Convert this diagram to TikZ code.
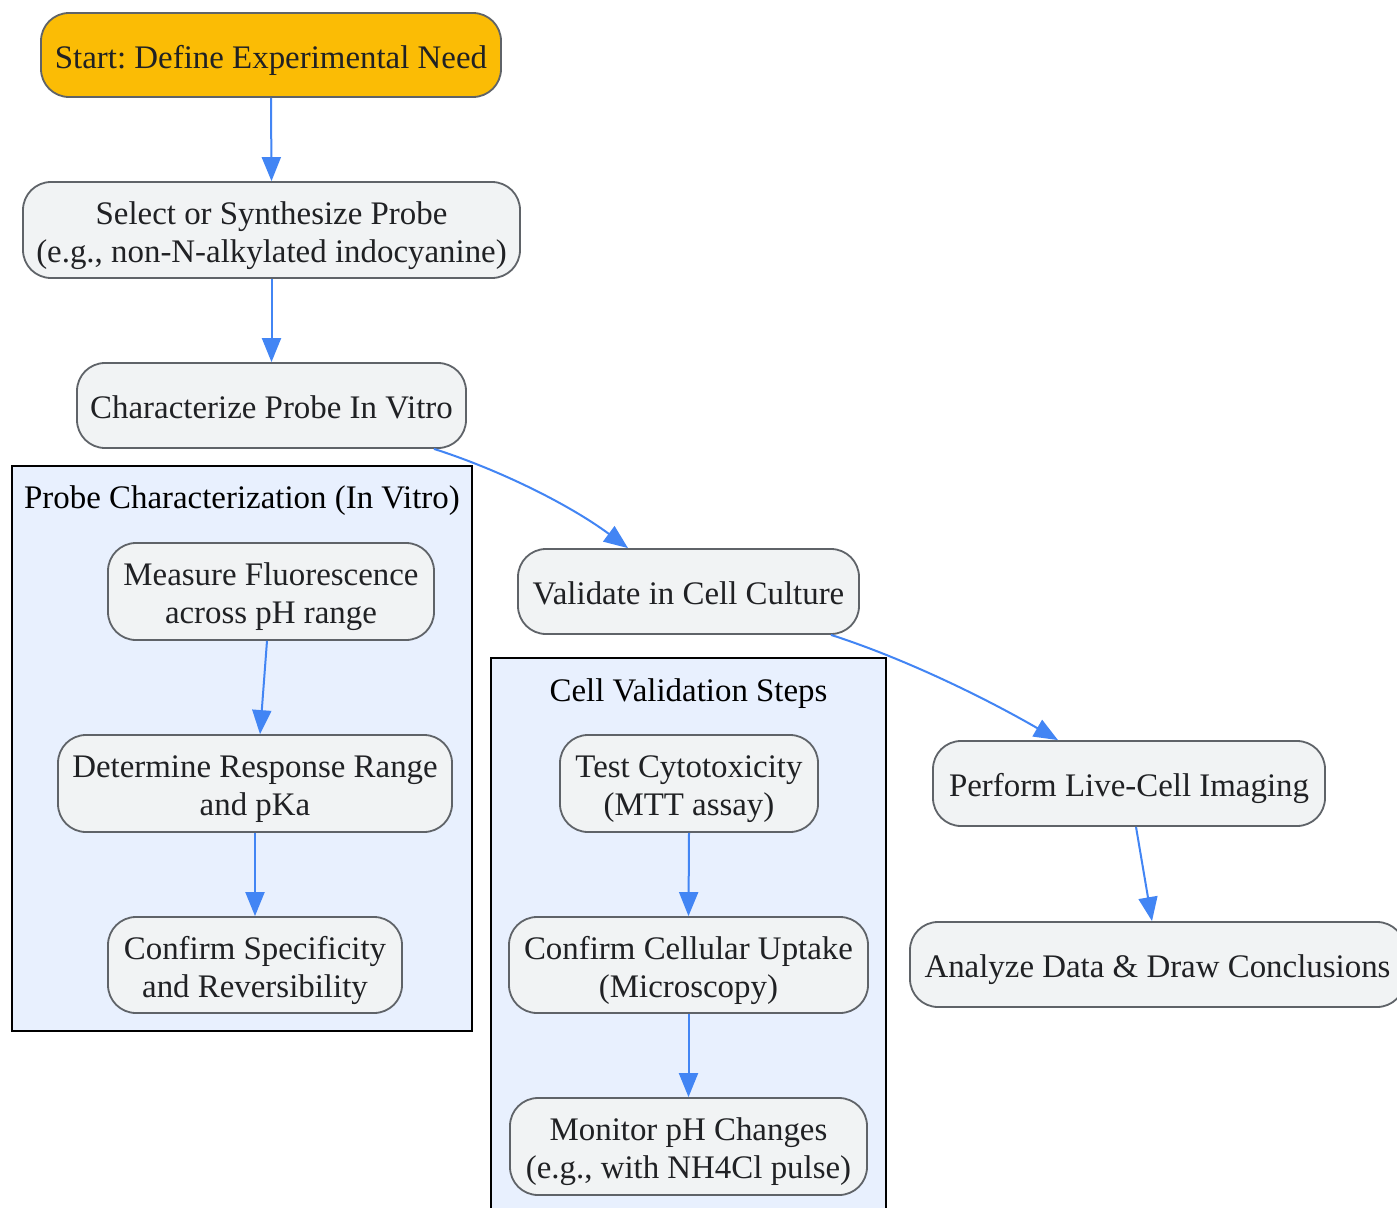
\documentclass[tikz,border=0pt]{standalone}
\usepackage{fontspec}
\setmainfont{Liberation Serif}
\usetikzlibrary{arrows.meta}
\frenchspacing
\definecolor{nodefill}{HTML}{F1F3F4}
\definecolor{nodeborder}{HTML}{5F6368}
\definecolor{nodetext}{HTML}{202124}
\definecolor{startfill}{HTML}{FBBC05}
\definecolor{clusterfill}{HTML}{E8F0FE}
\definecolor{arrowblue}{HTML}{4285F4}
\newcommand\nodefont{\fontsize{32.9}{38}\selectfont}
\newcommand\topst{\rule{0pt}{33.5pt}}
\newcommand\botst{\rule[-7.5pt]{0pt}{7.5pt}}
\tikzset{
  box/.style={draw=nodeborder, line width=1.8pt, fill=nodefill, rounded corners=28pt,
    inner sep=0pt, align=center, text=nodetext, font=\nodefont},
  clusterbox/.style={draw=black, line width=2pt, fill=clusterfill, inner sep=0pt},
  clustertitle/.style={inner sep=0pt, text=black, font=\nodefont, anchor=base},
  arr/.style={draw=arrowblue, line width=2pt, -{Triangle[length=24pt,width=19pt]}},
}
\begin{document}
\begin{tikzpicture}[x=1pt,y=-1pt]
\useasboundingbox (0,0) rectangle (1397,1207);
\clip (0,0) rectangle (1397,1207);
\fill[white] (0,0) rectangle (1397,1207);
% clusters
\node[clusterbox, minimum width=460pt, minimum height=565pt] (cl1) at (242,748.5) {};
\node[clustertitle] (cl1t) at (242,508) {Probe Characterization (In Vitro)};
\node[clusterbox, minimum width=395pt, minimum height=570pt] (cl2) at (688.5,943) {};
\node[clustertitle] (cl2t) at (688.5,701) {Cell Validation Steps};
% nodes
\node[box, fill=startfill, minimum width=460pt, minimum height=84pt] (start) at (271,55) {\topst Start: Define Experimental Need\botst};
\node[box, minimum width=497pt, minimum height=96pt] (select) at (271.5,230) {\topst Select or Synthesize Probe\\(e.g., non-N-alkylated indocyanine)\botst};
\node[box, minimum width=389pt, minimum height=85pt] (char) at (271.5,405.5) {\topst Characterize Probe In Vitro\botst};
\node[box, minimum width=326pt, minimum height=97pt] (measure) at (271,591.5) {\topst Measure Fluorescence\\across pH range\botst};
\node[box, minimum width=394pt, minimum height=97pt] (determine) at (255,783.5) {\topst Determine Response Range\\and pKa\botst};
\node[box, minimum width=294pt, minimum height=96pt] (confirm) at (255,965) {\topst Confirm Specificity\\and Reversibility\botst};
\node[box, minimum width=341pt, minimum height=85pt] (validate) at (688.5,591.5) {\topst Validate in Cell Culture\botst};
\node[box, minimum width=258pt, minimum height=97pt] (test) at (689,783.5) {\topst Test Cytotoxicity\\(MTT assay)\botst};
\node[box, minimum width=359pt, minimum height=96pt] (uptake) at (688.5,965) {\topst Confirm Cellular Uptake\\(Microscopy)\botst};
\node[box, minimum width=357pt, minimum height=97pt] (monitor) at (688.5,1146.5) {\topst Monitor pH Changes\\(e.g., with NH4Cl pulse)\botst};
\node[box, minimum width=392pt, minimum height=85pt] (perform) at (1129,783.5) {\topst Perform Live-Cell Imaging\botst};
\node[box, minimum width=495pt, minimum height=85pt] (analyze) at (1157.5,964.5) {\topst Analyze Data \& Draw Conclusions\botst};
% connectors
\draw[arr] (start.south) -- (select.north);
\draw[arr] (select.south) -- (char.north);
\draw[arr] ([xshift=162.5pt]char.south) .. controls (500,470) and (570,505) .. ([xshift=-60.5pt]validate.north);
\draw[arr] ([xshift=-4pt]measure.south) -- ([xshift=5pt]determine.north);
\draw[arr] (determine.south) -- (confirm.north);
\draw[arr] ([xshift=142.5pt]validate.south) .. controls (900,657) and (980,695) .. ([xshift=-71pt]perform.north);
\draw[arr] (test.south) -- (uptake.north);
\draw[arr] (uptake.south) -- (monitor.north);
\draw[arr] ([xshift=7pt]perform.south) -- ([xshift=-5.5pt]analyze.north);
\end{tikzpicture}
\end{document}
